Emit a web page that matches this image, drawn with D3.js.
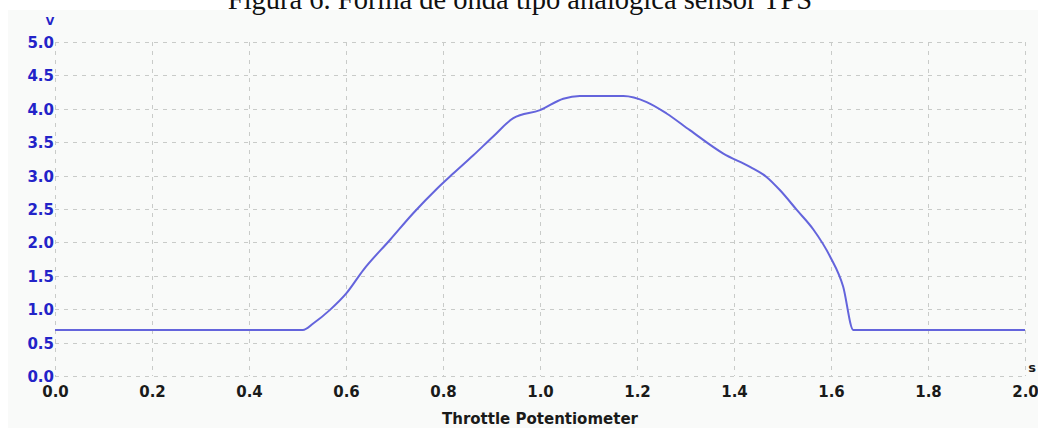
<!DOCTYPE html>
<html>
<head>
<meta charset="utf-8">
<script src="https://cdn.jsdelivr.net/npm/d3@7"></script>
<style>
  html, body { margin: 0; padding: 0; background: #ffffff; }
  svg { display: block; }
</style>
</head>
<body>
<svg id="chart" width="1038" height="428"></svg>
<script>
// Throttle position sensor waveform (seconds, volts)
const times = [0, 0.511, 0.533, 0.567, 0.601, 0.636, 0.691, 0.739, 0.787, 0.821,
  0.862, 0.904, 0.945, 1.0, 1.048, 1.082, 1.172, 1.22, 1.261, 1.309, 1.378,
  1.433, 1.467, 1.495, 1.529, 1.564, 1.598, 1.625, 1.646, 2.0];
const volts = [0.69, 0.69, 0.79, 0.99, 1.24, 1.59, 2.04, 2.44, 2.8, 3.03,
  3.3, 3.59, 3.86, 3.98, 4.15, 4.19, 4.19, 4.10, 3.93, 3.68, 3.33,
  3.13, 2.98, 2.78, 2.49, 2.19, 1.79, 1.34, 0.69, 0.69];

const xTicks = [0, 0.2, 0.4, 0.6, 0.8, 1.0, 1.2, 1.4, 1.6, 1.8, 2.0];
const yTicks = [0, 0.5, 1.0, 1.5, 2.0, 2.5, 3.0, 3.5, 4.0, 4.5, 5.0];

const title = "Figura 6. Forma de onda tipo analógica sensor TPS";
const xName = "Throttle Potentiometer";

const svg = d3.select("#chart");

// scope panel background
svg.append("rect")
  .attr("x", 8).attr("y", 10).attr("width", 1030).attr("height", 418)
  .attr("fill", "#f9faf9");

// caption, cut at the top edge like the scan
svg.append("text")
  .attr("x", 520).attr("y", 9)
  .attr("text-anchor", "middle")
  .attr("font-family", "'Liberation Serif', 'DejaVu Serif', serif")
  .attr("font-size", 28.5)
  .attr("fill", "#111")
  .text(title);

const x = d3.scaleLinear().domain([0, 2]).range([55, 1025]);
const y = d3.scaleLinear().domain([0, 5]).range([376, 42]);

// dashed grid
const grid = svg.append("g")
  .attr("stroke", "#c9cbc9")
  .attr("stroke-width", 1)
  .attr("stroke-dasharray", "4,5");

grid.selectAll("line.h")
  .data(yTicks)
  .join("line")
  .attr("class", "h")
  .attr("x1", x(0)).attr("x2", x(2))
  .attr("y1", d => Math.round(y(d)) + 0.5)
  .attr("y2", d => Math.round(y(d)) + 0.5);

grid.selectAll("line.v")
  .data(xTicks)
  .join("line")
  .attr("class", "v")
  .attr("y1", y(5)).attr("y2", y(0))
  .attr("x1", d => Math.round(x(d)) + 0.5)
  .attr("x2", d => Math.round(x(d)) + 0.5);

// axes: built with d3 axis, then domain/ticks hidden and labels styled
const yAxis = svg.append("g")
  .attr("transform", "translate(54,0)")
  .call(d3.axisLeft(y).tickValues(yTicks).tickFormat(d3.format(".1f")).tickSize(0).tickPadding(0));
yAxis.select(".domain").remove();
yAxis.selectAll("text")
  .attr("font-family", "'DejaVu Sans', sans-serif")
  .attr("font-weight", "bold")
  .attr("font-size", 15)
  .attr("fill", "#2323c8")
  .attr("dy", "0.36em");

const xAxis = svg.append("g")
  .attr("transform", "translate(0,386)")
  .call(d3.axisBottom(x).tickValues(xTicks).tickFormat(d3.format(".1f")).tickSize(0).tickPadding(0));
xAxis.select(".domain").remove();
xAxis.selectAll("text")
  .attr("font-family", "'DejaVu Sans', sans-serif")
  .attr("font-weight", "bold")
  .attr("font-size", 15)
  .attr("fill", "#1a1a1a")
  .attr("dy", "0.71em");

// unit labels
svg.append("text")
  .attr("x", 50).attr("y", 25)
  .attr("text-anchor", "middle")
  .attr("font-family", "'DejaVu Sans', sans-serif")
  .attr("font-weight", "bold")
  .attr("font-size", 11)
  .attr("fill", "#2323c8")
  .text("V");

svg.append("text")
  .attr("x", 1032).attr("y", 372)
  .attr("text-anchor", "middle")
  .attr("font-family", "'DejaVu Sans', sans-serif")
  .attr("font-weight", "bold")
  .attr("font-size", 13)
  .attr("fill", "#1a1a1a")
  .text("s");

svg.append("text")
  .attr("x", 540).attr("y", 424)
  .attr("text-anchor", "middle")
  .attr("font-family", "'DejaVu Sans', sans-serif")
  .attr("font-weight", "bold")
  .attr("font-size", 15)
  .attr("fill", "#1a1a1a")
  .text(xName);

// waveform
const line = d3.line()
  .x((d, i) => x(times[i]))
  .y(d => y(d))
  .curve(d3.curveMonotoneX);

svg.append("path")
  .datum(volts)
  .attr("fill", "none")
  .attr("stroke", "#6464dc")
  .attr("stroke-width", 2)
  .attr("stroke-linejoin", "round")
  .attr("d", line);
</script>
</body>
</html>
